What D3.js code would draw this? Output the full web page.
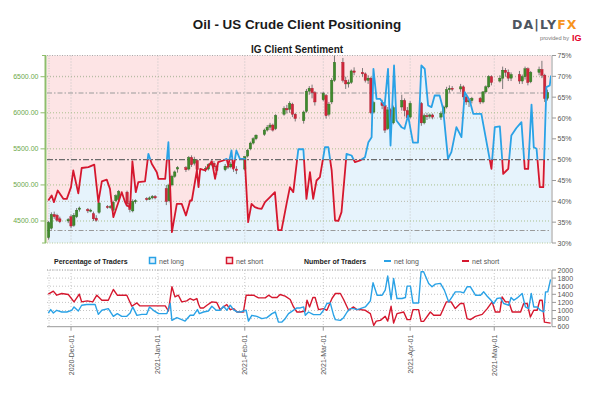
<!DOCTYPE html>
<html><head><meta charset="utf-8">
<script src="https://cdn.jsdelivr.net/npm/d3@7"></script>
<style>
body{margin:0;background:#fff;}
svg{display:block;font-family:"Liberation Sans",Arial,sans-serif;}
</style></head>
<body><svg id="chart" width="602" height="402"></svg>
<script>
// ---------------- DATA ----------------
const title = "Oil - US Crude Client Positioning";
const subtitle = "IG Client Sentiment";
const timeOrigin = "2020-12-01";           // day offsets below are counted from this date
const xDomainDays = [-8.57, 171.25];
const monthTicks = ["2020-12-01","2021-01-01","2021-02-01","2021-03-01","2021-04-01","2021-05-01"];
const priceTicks = [4500,5000,5500,6000,6500];
const priceDomain = [4195, 6794];
const pctTicks = [30,35,40,45,50,55,60,65,70,75];
const pctGridLevels = [40,60,70];
const pctRefLevels = [33,66];
const pctMidLevel = 50;
const countTicks = [600,800,1000,1200,1400,1600,1800,2000];

const candleDates = ["2020-11-23","2020-11-24","2020-11-25","2020-11-26","2020-11-27","2020-11-30",
"2020-12-01","2020-12-02","2020-12-03","2020-12-04","2020-12-07","2020-12-08","2020-12-09","2020-12-10","2020-12-11",
"2020-12-14","2020-12-15","2020-12-16","2020-12-17","2020-12-18","2020-12-21","2020-12-22","2020-12-23","2020-12-24",
"2020-12-28","2020-12-29","2020-12-30","2020-12-31",
"2021-01-04","2021-01-05","2021-01-06","2021-01-07","2021-01-08","2021-01-11","2021-01-12","2021-01-13","2021-01-14","2021-01-15",
"2021-01-18","2021-01-19","2021-01-20","2021-01-21","2021-01-22","2021-01-25","2021-01-26","2021-01-27","2021-01-28","2021-01-29",
"2021-02-01","2021-02-02","2021-02-03","2021-02-04","2021-02-05","2021-02-08","2021-02-09","2021-02-10","2021-02-11","2021-02-12",
"2021-02-15","2021-02-16","2021-02-17","2021-02-18","2021-02-19","2021-02-22","2021-02-23","2021-02-24","2021-02-25","2021-02-26",
"2021-03-01","2021-03-02","2021-03-03","2021-03-04","2021-03-05","2021-03-08","2021-03-09","2021-03-10","2021-03-11","2021-03-12",
"2021-03-15","2021-03-16","2021-03-17","2021-03-18","2021-03-19","2021-03-22","2021-03-23","2021-03-24","2021-03-25","2021-03-26",
"2021-03-29","2021-03-30","2021-03-31","2021-04-01","2021-04-05","2021-04-06","2021-04-07","2021-04-08","2021-04-09",
"2021-04-12","2021-04-13","2021-04-14","2021-04-15","2021-04-16","2021-04-19","2021-04-20","2021-04-21","2021-04-22","2021-04-23",
"2021-04-26","2021-04-27","2021-04-28","2021-04-29","2021-04-30","2021-05-03","2021-05-04","2021-05-05","2021-05-06","2021-05-07",
"2021-05-10","2021-05-11","2021-05-12","2021-05-13","2021-05-14","2021-05-17","2021-05-18","2021-05-19","2021-05-20"];
const candleOpen = [4270,4400,4590,4580,4530,4500, 4560,4440,4560,4660,4660,4640,4600,4540,4620, 4700,4690,4650,4780,4800,4900,4740,4640,4770,
4810,4800,4820,4840, 4950,4780,5000,5120,5220,5240,5220,5380,5300,5340, 5220,5220,5280,5300,5260,5210,5260,5250,5280,5220,
5220,5400,5500,5580,5640,5700,5760,5800,5830,5780, 5980,6060,6050,6120,5980,5890,6020,6300,6340,6280,
6180,6240,5980,6150,6450,6700,6450,6400,6420,6580, 6560,6540,6450,6480,6010,6140,6100,5780,6040,5860,
6080,6170,6030,5940,6130,5860,5960,5950,5970, 5940,5990,6080,6320,6340,6330,6360,6220,6150,6170,
6200,6150,6290,6360,6500,6440,6480,6590,6560,6480, 6530,6440,6500,6610,6430,6560,6600,6520,6200];
const candleHigh = [4500,4620,4630,4600,4560,4540, 4590,4610,4680,4700,4680,4670,4630,4580,4770, 4720,4720,4780,4870,4930,4920,4780,4800,4800,
4830,4840,4860,4860, 5000,5020,5140,5200,5260,5260,5400,5410,5390,5360, 5260,5300,5340,5330,5280,5290,5300,5320,5300,5260,
5400,5500,5600,5660,5700,5780,5830,5860,5850,5980, 6090,6110,6160,6140,6000,6030,6330,6370,6390,6300,
6290,6260,6150,6480,6800,6760,6500,6460,6600,6630, 6620,6560,6520,6500,6160,6180,6120,6080,6060,6100,
6250,6200,6080,6160,6150,5990,6000,5990,5990, 6020,6100,6360,6380,6370,6400,6380,6260,6200,6220,
6220,6300,6380,6520,6520,6520,6640,6620,6600,6560, 6580,6530,6640,6630,6580,6640,6720,6540,6320];
const candleLow = [4240,4380,4530,4490,4470,4470, 4400,4420,4540,4630,4610,4620,4500,4490,4600, 4670,4670,4630,4760,4770,4700,4620,4620,4740,
4780,4790,4800,4800, 4720,4760,4980,5100,5170,5180,5200,5250,5270,5180, 5180,5200,5260,5220,5140,5190,5220,5230,5180,5150,
5200,5380,5480,5560,5620,5680,5740,5760,5740,5760, 5960,5990,6000,5940,5880,5850,6000,6250,6200,6100,
6160,5920,5950,6120,6430,6420,6330,6350,6400,6520, 6500,6420,6400,5980,5990,6050,5720,5760,5800,5840,
6030,5950,5900,5920,5820,5840,5900,5920,5910, 5900,5970,6060,6280,6300,6290,6180,6110,6080,6130,
6120,6130,6270,6340,6380,6420,6330,6500,6440,6440, 6400,6400,6460,6380,6410,6520,6480,6150,6170];
const candleClose = [4480,4590,4560,4510,4490,4520, 4430,4580,4650,4680,4640,4650,4530,4510,4750, 4690,4700,4760,4850,4910,4740,4660,4770,4780,
4800,4820,4840,4820, 4770,5000,5120,5180,5240,5210,5380,5280,5350,5210, 5230,5280,5300,5250,5200,5260,5250,5290,5230,5200,
5390,5480,5580,5640,5690,5760,5800,5830,5760,5960, 6060,6040,6130,5980,5920,6010,6300,6340,6280,6150,
6270,5960,6120,6450,6700,6450,6400,6420,6580,6560, 6540,6450,6480,6000,6140,6100,5760,6040,5850,6070,
6170,6030,5930,6130,5860,5960,5950,5970,5940, 5990,6080,6320,6340,6330,6360,6220,6150,6170,6200,
6150,6290,6360,6500,6420,6480,6590,6560,6480,6530, 6440,6500,6610,6420,6560,6600,6520,6200,6280];

// % of traders net long (day offset, percent)
const pctDays = [-8.1,-6.9,-6.1,-4.75,-2.75,-1.5,0,0.8,2.6,3.8,6.2,8.3,9.75,11,12.75,13.9,15.1,16.3,18.1,19.3,19.9,21.1,21.9,23.1,24,26.4,27.6,28.8,
30.6,31.2,33.6,34.75,36,37.75,39.5,41,42.5,43.1,44.9,45.5,46.1,47.9,50.25,51.4,52.5,54.3,55.5,56.1,57.25,57.9,59,60.25,62,63.2,64.4,65.6,66.8,68,
69.2,71,72.75,73.9,75.1,76.9,78.1,79.3,81.1,82.9,84,85.25,86.4,87.6,88.8,90.6,91.8,93,94.2,95.4,96.5,98.3,100.1,101.3,103.1,104.9,106.1,107.25,
107.9,109,110.25,111.9,113.1,114,115.25,116.1,117.9,119,120.25,122,123.8,125,126.2,127.4,128.6,129.75,131.5,132.75,134.5,135.7,137.5,139.3,140.5,
142.25,143.5,146.4,147.6,150,151.2,153,154.2,155.4,156,157.1,158.9,160.7,161.9,163.1,164.3,165.1,166.1,167.25,168.5,169.6,170.8,171.25];
const pctLong = [40.2,41.4,39.8,42.6,40.6,40.6,43.4,47.4,41.9,48,48.2,48.8,39.8,44.8,45.2,43,36.2,38.6,42.2,39.8,39,38.6,49.6,42.2,44.6,44.8,51.4,49,
47,45.4,45.4,54.2,32.6,39.4,39.4,36.6,40.2,40.2,47.4,43.4,47.8,47.4,49.6,45.4,49.4,49.8,50.2,48.6,52.2,47.8,52.2,50.2,50.2,35,39.4,38.6,38.3,38.2,
39.8,41,42.2,33.1,33.1,39.4,43.4,42.2,52.5,52.5,40.6,47,40.6,45,45.8,53,53,47.4,35.4,35.3,37.4,51.4,51,49.4,49.8,50.6,54.2,55.4,
71.8,64.6,64.6,63,71.8,53.4,72.6,59.4,57.8,57.4,60.6,54.1,54.1,72.6,71.8,63,62.6,65.4,65.4,62.2,50.2,51.8,57.8,55.4,66.2,
64.2,61,61,56.6,47.8,57.8,58,46.6,47.4,47.8,55.8,57.6,59,47.8,47.8,63.2,53,52.6,43.4,43.4,67.4,67.8,70.2];

// number of traders net long (day offset, count)
const longDays = [-8.1,-7.25,-6.3,-5.1,-3.3,-1.5,0.25,1.07,2.6,3.8,5.6,8.6,9.75,11,13.3,15.1,16.5,18.1,19.9,21.1,22,23.5,25.25,27,28,29.4,31.2,34.2,
35.4,36,37.75,39.5,40.7,42.5,43.7,45.1,45.8,47.25,49,50.25,51.8,53.2,54.4,55.6,56.8,58,59.2,60.4,62.5,63.3,64.5,66.3,68.1,69.9,71.7,72.9,74,75.25,
76.4,77.6,78.8,80.6,81.8,83,83.6,84.75,86.5,88.9,90.1,91.3,92.5,93.7,94.3,96.1,97.25,98.5,99.6,100.8,102,103.2,105,106.2,106.8,107.75,109.2,111,
112.1,113,114.2,115.1,116.3,118.1,119.3,119.9,121.1,122,122.9,124,124.9,125.8,127.6,128.8,130,131.8,133.2,134.75,135.96,137.1,138.9,140.1,141.3,
142.5,144.3,146.1,147.25,148.5,149.6,150.8,152,153.2,154.4,156.2,157,158,159.2,160.96,162.1,163.3,164.2,165.1,166.3,167.5,168.7,169.3,170.1,171.1];
const longCount = [938,1022,938,1005,963,963,1005,1088,988,1130,1147,1147,905,1005,1047,856,923,856,856,938,1088,881,905,905,1088,1005,923,923,
1172,756,823,774,739,881,881,1022,923,963,988,1105,1005,1005,1105,1005,1130,1022,963,963,1005,739,881,856,798,823,923,963,714,714,
798,923,980,1063,1063,1088,881,963,898,898,1005,1172,1187,881,774,756,823,963,1047,1047,1022,1047,1088,1187,1237,1684,1378,1378,
1503,1851,1271,1793,1296,1296,1320,1602,1602,1187,1187,1187,1958,1958,1669,1585,1652,1669,1503,1212,1336,1461,1461,1436,1585,
1585,1378,1378,1461,1353,1271,1172,1296,1311,1172,1130,1320,1254,1311,1420,1088,1047,1420,1088,1088,1005,963,1461,1461,1769];

// number of traders net short (day offset, count)
const shortDays = [-8.1,-6.3,-5.1,-3.3,-0.96,1.07,2.96,3.8,5.8,7.75,9.2,11,13.3,15.1,16.5,19.9,21.7,23.5,24.6,27.6,33.6,34.75,36,37.1,38.3,39.5,41.3,
42.5,43.7,44.9,45.5,46.1,47.25,48.5,50.25,52,53.2,54.4,55.6,56.8,58,59.2,61.5,62.5,65.1,66.9,69.3,70.5,71.7,73.5,74.6,76.4,78.2,79.4,80.6,81.8,
83.6,84.2,85.1,86.3,87.1,88.3,90.1,91.3,93.1,94.3,96.1,97.25,99.05,100.8,102,103.2,105,106.8,108,108.9,110.4,112.1,113,114.2,115.1,116.3,118.7,
119.9,121.1,122,124,124.9,125.8,128.2,129.4,131.8,133.9,135.6,137.1,138.9,140.1,141.3,142.5,144.3,146.7,148.5,150.25,151.4,153,153.8,155,156.2,
157.4,160.4,161.5,162.75,163.9,165.1,166.3,167.25,168.1,168.9,171.1];
const shortCount = [1403,1478,1378,1420,1395,1212,1403,1212,1237,1212,1378,1254,1254,1519,1378,1378,1105,1187,1113,1113,1113,988,1585,1336,1378,1212,1237,
1296,1254,1296,1154,1063,1063,1130,1212,1196,1022,1088,1147,1022,1047,963,963,1378,1378,1311,1311,1378,1320,1320,1395,1353,1271,1088,963,963,
988,1254,1088,1320,1320,1022,1047,1005,1296,1420,1420,1271,1005,1088,1022,1022,1005,923,632,739,756,856,739,1105,689,923,963,
774,774,1022,1022,731,731,963,881,881,1212,1212,1047,1172,1172,798,774,856,905,1047,1212,963,963,1336,1212,1212,
963,963,1172,1172,839,1005,1005,1254,1254,714,689];

// ---------------- DRAW ----------------
const svg = d3.select("#chart");
const L = 47, R = 551;
const upTop = 55.5, upBot = 243;
const loTop = 270, loBot = 326.7;
const FONT = '"Liberation Sans",Arial,sans-serif';

const origin = d3.timeParse("%Y-%m-%d")(timeOrigin);
const dayDate = d => new Date(origin.getTime() + d * 864e5);
const parseDay = d3.timeParse("%Y-%m-%d");

const x = d3.scaleTime().domain(xDomainDays.map(dayDate)).range([L, R]);
const yPrice = d3.scaleLinear().domain(priceDomain).range([upBot, upTop]);
const yPct = d3.scaleLinear().domain([30, 75]).range([upBot, upTop]);
const yCnt = d3.scaleLinear().domain([600, 2000]).range([loBot, loTop]);

const defs = svg.append("defs");
defs.append("clipPath").attr("id","cpUp").append("rect")
  .attr("x",L).attr("y",upTop).attr("width",R-L).attr("height",upBot-upTop);
defs.append("clipPath").attr("id","cpHigh").append("rect")
  .attr("x",L).attr("y",upTop-2).attr("width",R-L).attr("height",yPct(pctMidLevel)-upTop+2);
defs.append("clipPath").attr("id","cpLow").append("rect")
  .attr("x",L).attr("y",yPct(pctMidLevel)).attr("width",R-L).attr("height",upBot-yPct(pctMidLevel)+2);
defs.append("clipPath").attr("id","cpLo").append("rect")
  .attr("x",L).attr("y",loTop-3).attr("width",R-L).attr("height",loBot-loTop+3);

// Titles
svg.append("text").attr("x",297).attr("y",28.5).attr("text-anchor","middle")
  .attr("font-size",13.4).attr("font-weight","bold").attr("fill","#1a1a1a").text(title);
svg.append("text").attr("x",297).attr("y",52.5).attr("text-anchor","middle")
  .attr("font-size",10).attr("font-weight","bold").attr("fill","#1a1a1a").text(subtitle);

// Logo
const logo = svg.append("text").attr("x",512).attr("y",29).attr("font-size",12.5)
  .attr("font-weight","bold").attr("letter-spacing",1.1).attr("font-family","'DejaVu Sans',sans-serif");
logo.append("tspan").attr("fill","#4d5560").text("DA|LY");
logo.append("tspan").attr("fill","#f7941d").text("FX");
svg.append("text").attr("x",569).attr("y",39.5).attr("text-anchor","end").attr("font-size",5.6)
  .attr("fill","#777").text("provided by");
svg.append("text").attr("x",572).attr("y",40.5).attr("font-size",9).attr("font-weight","bold")
  .attr("fill","#e4002b").text("IG");

// ---------- Upper panel ----------
const up = svg.append("g");
up.append("rect").attr("x",L).attr("y",upTop).attr("width",R-L).attr("height",upBot-upTop).attr("fill","#fde4e5");

const pctData = pctDays.map((d,i)=>({t:dayDate(d), v:pctLong[i]}));
const area = d3.area().x(d=>x(d.t)).y0(upBot).y1(d=>yPct(d.v));
up.append("path").datum(pctData).attr("clip-path","url(#cpUp)").attr("d",area).attr("fill","#e6f3fc");

// grids
const months = monthTicks.map(parseDay);
up.selectAll(".vg").data(months).join("line")
  .attr("x1",d=>x(d)).attr("x2",d=>x(d)).attr("y1",upTop).attr("y2",upBot)
  .attr("stroke","#c4c4c4").attr("stroke-dasharray","1,2");
up.selectAll(".pg").data(priceTicks).join("line")
  .attr("x1",L).attr("x2",R).attr("y1",d=>yPrice(d)).attr("y2",d=>yPrice(d))
  .attr("stroke","#a9bf8c").attr("stroke-dasharray","1,2");
up.selectAll(".cg").data(pctGridLevels).join("line")
  .attr("x1",L).attr("x2",R).attr("y1",d=>yPct(d)).attr("y2",d=>yPct(d))
  .attr("stroke","#b8b8a8").attr("stroke-dasharray","1,2");
up.selectAll(".rg").data(pctRefLevels).join("line")
  .attr("x1",L).attr("x2",R).attr("y1",d=>yPct(d)).attr("y2",d=>yPct(d))
  .attr("stroke","#9a9a9a").attr("stroke-dasharray","5,2,1.5,2");
up.append("line").attr("x1",L).attr("x2",R).attr("y1",yPct(pctMidLevel)).attr("y2",yPct(pctMidLevel))
  .attr("stroke","#6b6b6b").attr("stroke-width",1.4).attr("stroke-dasharray","6,2,2,2");
// frame (dotted)
up.append("line").attr("x1",L).attr("x2",R).attr("y1",upTop).attr("y2",upTop).attr("stroke","#aaa").attr("stroke-dasharray","1,1.5");
up.append("line").attr("x1",L).attr("x2",R).attr("y1",upBot).attr("y2",upBot).attr("stroke","#b5c99a").attr("stroke-dasharray","1,1.5");
up.append("line").attr("x1",L+2).attr("x2",L+2).attr("y1",upTop).attr("y2",upBot).attr("stroke","#c8c8c8").attr("stroke-dasharray","1,1.5");

// candles
const candles = candleDates.map((d,i)=>({t:parseDay(d), o:candleOpen[i], h:candleHigh[i], l:candleLow[i], c:candleClose[i]}));
const cg = up.append("g").attr("clip-path","url(#cpUp)");
cg.selectAll(".wick").data(candles).join("line")
  .attr("x1",d=>x(d.t)).attr("x2",d=>x(d.t)).attr("y1",d=>yPrice(d.h)).attr("y2",d=>yPrice(d.l))
  .attr("stroke","#6d6d6d").attr("stroke-width",0.9);
cg.selectAll(".body").data(candles).join("rect")
  .attr("x",d=>x(d.t)-1.2).attr("width",2.4)
  .attr("y",d=>yPrice(Math.max(d.o,d.c)))
  .attr("height",d=>Math.max(1,Math.abs(yPrice(d.o)-yPrice(d.c))))
  .attr("fill",d=>d.c>=d.o?"#3f8a2c":"#d0263a")
  .attr("stroke",d=>d.c>=d.o?"#2c6a1d":"#a81a2c").attr("stroke-width",0.4);

// sentiment line, coloured by side of 50%
const line = d3.line().x(d=>x(d.t)).y(d=>yPct(d.v));
const lg = up.append("g").attr("clip-path","url(#cpUp)");
lg.append("path").datum(pctData).attr("clip-path","url(#cpHigh)").attr("d",line)
  .attr("fill","none").attr("stroke","#2aa2e6").attr("stroke-width",1.8).attr("stroke-linejoin","round");
lg.append("path").datum(pctData).attr("clip-path","url(#cpLow)").attr("d",line)
  .attr("fill","none").attr("stroke","#d5172e").attr("stroke-width",1.8).attr("stroke-linejoin","round");

// left (price) axis
const axL = svg.append("g");
axL.append("line").attr("x1",45.5).attr("x2",45.5).attr("y1",upTop).attr("y2",upBot).attr("stroke","#8fbd6c").attr("stroke-width",2);
axL.selectAll(".t").data(priceTicks).join("line")
  .attr("x1",40.5).attr("x2",45).attr("y1",d=>yPrice(d)).attr("y2",d=>yPrice(d)).attr("stroke","#8fbd6c").attr("stroke-width",1);
axL.selectAll(".e").data([upTop,upBot]).join("line")
  .attr("x1",42).attr("x2",46).attr("y1",d=>d).attr("y2",d=>d).attr("stroke","#8fbd6c").attr("stroke-width",1);
axL.selectAll("text").data(priceTicks).join("text")
  .attr("x",38.5).attr("y",d=>yPrice(d)+2.5).attr("text-anchor","end").attr("font-size",7)
  .attr("fill","#6da84a").text(d=>d3.format(".2f")(d));

// right (pct) axis
const axR = svg.append("g");
axR.append("line").attr("x1",552).attr("x2",552).attr("y1",upTop).attr("y2",upBot).attr("stroke","#999");
axR.selectAll(".t").data(pctTicks).join("line")
  .attr("x1",552).attr("x2",556).attr("y1",d=>yPct(d)).attr("y2",d=>yPct(d)).attr("stroke","#999");
axR.selectAll("text").data(pctTicks).join("text")
  .attr("x",557.5).attr("y",d=>yPct(d)+2.5).attr("font-size",7).attr("fill","#555").text(d=>d+"%");

// ---------- Legend ----------
const lgd = svg.append("g").attr("font-size",7);
lgd.append("text").attr("x",54).attr("y",264).attr("font-weight","bold").attr("fill","#222").text("Percentage of Traders");
lgd.append("rect").attr("x",149.5).attr("y",257.5).attr("width",6).attr("height",6).attr("fill","#e6f3fc").attr("stroke","#2aa2e6").attr("stroke-width",1.5);
lgd.append("text").attr("x",159).attr("y",264).attr("fill","#555").text("net long");
lgd.append("rect").attr("x",226.5).attr("y",257.5).attr("width",6).attr("height",6).attr("fill","#fde4e5").attr("stroke","#d5172e").attr("stroke-width",1.5);
lgd.append("text").attr("x",236).attr("y",264).attr("fill","#555").text("net short");
lgd.append("text").attr("x",304).attr("y",264).attr("font-weight","bold").attr("fill","#222").text("Number of Traders");
lgd.append("line").attr("x1",384).attr("x2",391).attr("y1",261).attr("y2",261).attr("stroke","#2aa2e6").attr("stroke-width",2);
lgd.append("text").attr("x",394).attr("y",264).attr("fill","#555").text("net long");
lgd.append("line").attr("x1",462).attr("x2",469).attr("y1",261).attr("y2",261).attr("stroke","#d5172e").attr("stroke-width",2);
lgd.append("text").attr("x",472).attr("y",264).attr("fill","#555").text("net short");

// ---------- Lower panel ----------
const lo = svg.append("g");
lo.selectAll(".vg").data(months).join("line")
  .attr("x1",d=>x(d)).attr("x2",d=>x(d)).attr("y1",loTop).attr("y2",loBot)
  .attr("stroke","#c8c8c8").attr("stroke-dasharray","1,2");
lo.selectAll(".hg").data(countTicks.slice(1)).join("line")
  .attr("x1",L).attr("x2",R).attr("y1",d=>yCnt(d)).attr("y2",d=>yCnt(d))
  .attr("stroke","#c4c4c4").attr("stroke-dasharray","1,2");
lo.append("line").attr("x1",L+2).attr("x2",L+2).attr("y1",loTop).attr("y2",loBot).attr("stroke","#c8c8c8").attr("stroke-dasharray","1,1.5");

const longData = longDays.map((d,i)=>({t:dayDate(d), v:longCount[i]}));
const shortData = shortDays.map((d,i)=>({t:dayDate(d), v:shortCount[i]}));
const cline = d3.line().x(d=>x(d.t)).y(d=>yCnt(d.v));
const clg = lo.append("g").attr("clip-path","url(#cpLo)");
clg.append("path").datum(shortData).attr("d",cline).attr("fill","none").attr("stroke","#d5172e").attr("stroke-width",1.4).attr("stroke-linejoin","round");
clg.append("path").datum(longData).attr("d",cline).attr("fill","none").attr("stroke","#2aa2e6").attr("stroke-width",1.4).attr("stroke-linejoin","round");

// bottom axis
lo.append("line").attr("x1",L).attr("x2",R).attr("y1",loBot).attr("y2",loBot).attr("stroke","#999");
lo.selectAll(".xt").data(months).join("line")
  .attr("x1",d=>x(d)).attr("x2",d=>x(d)).attr("y1",loBot).attr("y2",loBot+4).attr("stroke","#999");
const fmt = d3.timeFormat("%Y-%b-%d");
lo.selectAll(".xl").data(months).join("text")
  .attr("transform",d=>`translate(${x(d)+2.5},${loBot+8}) rotate(-90)`)
  .attr("text-anchor","end").attr("font-size",7).attr("fill","#555").text(d=>fmt(d));

// right count axis
lo.append("line").attr("x1",552).attr("x2",552).attr("y1",loTop).attr("y2",loBot).attr("stroke","#999");
lo.selectAll(".rt").data(countTicks).join("line")
  .attr("x1",552).attr("x2",556).attr("y1",d=>yCnt(d)).attr("y2",d=>yCnt(d)).attr("stroke","#999");
lo.selectAll(".rl").data(countTicks).join("text")
  .attr("x",557.5).attr("y",d=>yCnt(d)+2.5).attr("font-size",7).attr("fill","#555").text(d=>d);
// top dotted border of lower panel
lo.append("line").attr("x1",L).attr("x2",R).attr("y1",loTop).attr("y2",loTop).attr("stroke","#aaa").attr("stroke-dasharray","1,1.5");

svg.selectAll("text").attr("font-family", function(){ return this.getAttribute("font-family") || FONT; });
</script>
</body></html>
